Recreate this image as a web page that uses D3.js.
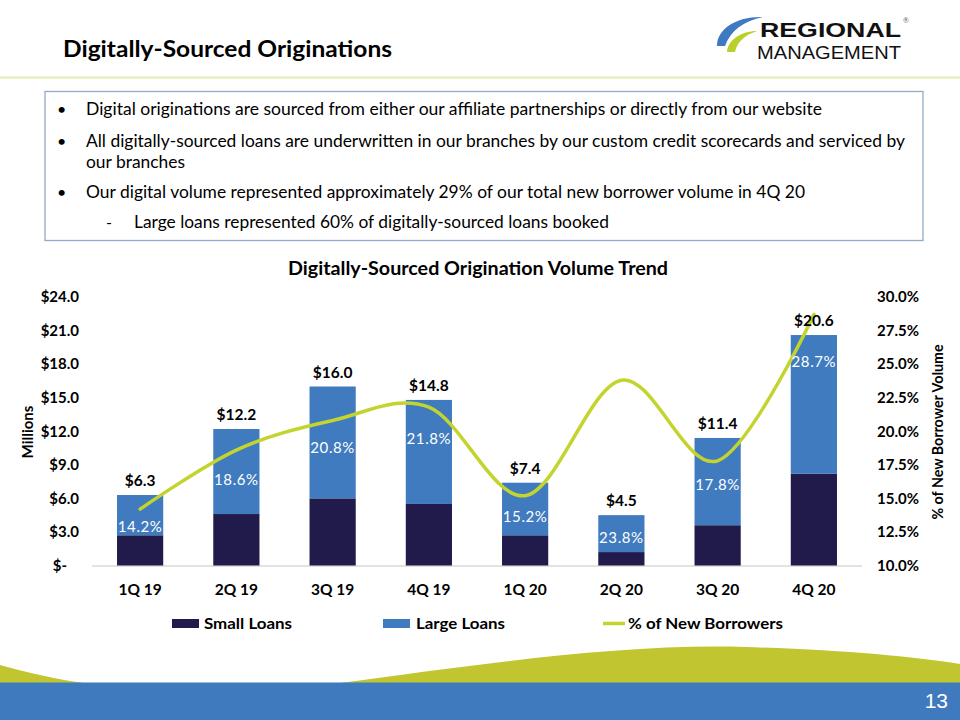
<!DOCTYPE html>
<html><head><meta charset="utf-8">
<script src="https://cdn.jsdelivr.net/npm/d3@7/dist/d3.min.js"></script>
<style>
html,body{margin:0;padding:0;background:#fff;}
svg{display:block;font-family:Lato, "Open Sans", sans-serif;}
</style></head>
<body>
<svg id="c" width="960" height="720"></svg>
<script>
// ---- data ----
const categories = ["1Q 19","2Q 19","3Q 19","4Q 19","1Q 20","2Q 20","3Q 20","4Q 20"];
const totalVolume = [6.3, 12.2, 16.0, 14.8, 7.4, 4.5, 11.4, 20.6];
const smallLoans = [2.7, 4.6, 6.0, 5.5, 2.7, 1.2, 3.6, 8.2];
const largeLoans = totalVolume.map((t, i) => +(t - smallLoans[i]).toFixed(1));
const pctNewBorrowers = [14.2, 18.6, 20.8, 21.8, 15.2, 23.8, 17.8, 28.7];
const pctLabelAnchor = [3.5, 7.7, 10.5, 11.3, 4.4, 2.5, 7.2, 18.2]; // $M level where % labels sit
const leftTicks = [0, 3, 6, 9, 12, 15, 18, 21, 24];
const rightTicks = [10, 12.5, 15, 17.5, 20, 22.5, 25, 27.5, 30];
const seriesNames = ["Small Loans", "Large Loans", "% of New Borrowers"];
const bullets = [
  "Digital originations are sourced from either our affiliate partnerships or directly from our website",
  "All digitally-sourced loans are underwritten in our branches by our custom credit scorecards and serviced by",
  "our branches",
  "Our digital volume represented approximately 29% of our total new borrower volume in 4Q 20",
  "Large loans represented 60% of digitally-sourced loans booked"
];

const C = {navy:"#201B4B", blue:"#3F7BBE", lime:"#C4D42F", olive:"#C1C52F", footBlue:"#3F7ABE"};

const svg = d3.select("#c");

// ---- header ----
svg.append("line").attr("x1",0).attr("x2",960).attr("y1",77.5).attr("y2",77.5)
  .attr("stroke","#E4EBB4").attr("stroke-width",2);
svg.append("text").attr("x",63).attr("y",57).attr("font-size",23).attr("font-weight",700)
  .attr("fill","#000").attr("textLength",329).attr("lengthAdjust","spacingAndGlyphs")
  .text("Digitally-Sourced Originations");

// logo
const logo = svg.append("g");
logo.append("path").attr("fill","#3F79C2")
  .attr("d","M717,46 C717,28 738,16 763,17 C744,21 731,30 725,46 Z");
logo.append("path").attr("fill","#B9CF2A")
  .attr("d","M727,52 C728,40 741,31 757,31 C745,35 737,42 735,52 Z");
logo.append("text").attr("x",760).attr("y",37).attr("font-size",21).attr("font-weight",700)
  .attr("font-family","'Liberation Sans Narrow','Liberation Sans',sans-serif")
  .attr("textLength",141).attr("lengthAdjust","spacingAndGlyphs").attr("fill","#111").text("REGIONAL");
logo.append("text").attr("x",757).attr("y",59).attr("font-size",18)
  .attr("font-family","'Liberation Sans Narrow','Liberation Sans',sans-serif")
  .attr("textLength",144).attr("lengthAdjust","spacingAndGlyphs").attr("fill","#111").text("MANAGEMENT");
logo.append("text").attr("x",903).attr("y",23).attr("font-size",7).attr("fill","#666").text("®");

// ---- bullet box ----
svg.append("rect").attr("x",45).attr("y",91.5).attr("width",878).attr("height",149)
  .attr("fill","none").attr("stroke","#93A9C6").attr("stroke-width",1.3);
const bl = [
  {t:bullets[0], x:86, y:115, mark:"•", w:736},
  {t:bullets[1], x:86, y:147, mark:"•", w:819},
  {t:bullets[2], x:86, y:168, mark:"", w:99},
  {t:bullets[3], x:86, y:198, mark:"•", w:719},
  {t:bullets[4], x:134, y:228, mark:"-", w:475}
];
bl.forEach(b => {
  if (b.mark === "•") svg.append("text").attr("x",57).attr("y",b.y).attr("font-size",16).attr("fill","#000").text("•");
  if (b.mark === "-") svg.append("text").attr("x",106).attr("y",b.y).attr("font-size",16).attr("fill","#000").text("-");
  svg.append("text").attr("x",b.x).attr("y",b.y).attr("font-size",17).attr("fill","#000")
    .attr("textLength",b.w).attr("lengthAdjust","spacingAndGlyphs").text(b.t);
});

// ---- chart ----
svg.append("text").attr("x",478).attr("y",275).attr("text-anchor","middle")
  .attr("font-size",18.5).attr("font-weight",700).attr("fill","#000")
  .attr("textLength",380).attr("lengthAdjust","spacingAndGlyphs")
  .text("Digitally-Sourced Origination Volume Trend");

const x = d3.scaleBand().domain(categories).range([92, 862]).paddingInner(0.52).paddingOuter(0.26);
const y = d3.scaleLinear().domain([0, 24]).range([565.5, 297]);
const y2 = d3.scaleLinear().domain([10, 30]).range([565.5, 297]);
const bw = x.bandwidth();

// baseline
svg.append("line").attr("x1",92).attr("x2",862).attr("y1",566).attr("y2",566)
  .attr("stroke","#D9D9D9").attr("stroke-width",1.5);

// bars
const bars = svg.append("g");
bars.selectAll(".s").data(categories).join("rect")
  .attr("x", d => x(d)).attr("width", bw)
  .attr("y", (d,i) => y(smallLoans[i])).attr("height", (d,i) => y(0) - y(smallLoans[i]))
  .attr("fill", C.navy);
bars.selectAll(".l").data(categories).join("rect")
  .attr("x", d => x(d)).attr("width", bw)
  .attr("y", (d,i) => y(smallLoans[i] + largeLoans[i]))
  .attr("height", (d,i) => y(smallLoans[i]) - y(smallLoans[i] + largeLoans[i]))
  .attr("fill", C.blue);

// left axis
const ax = svg.append("g").attr("transform","translate(92,0)")
  .call(d3.axisLeft(y).tickValues(leftTicks).tickSize(0).tickPadding(13)
    .tickFormat(d => d === 0 ? "$-" : "$" + d3.format(".1f")(d)));
ax.select(".domain").remove();
ax.selectAll("text").attr("font-family","Lato, sans-serif").attr("font-size",15).attr("font-weight",700).attr("fill","#000");
ax.selectAll("text").filter(d => d === 0).attr("dx",-12);

// right axis
const ar = svg.append("g").attr("transform","translate(862,0)")
  .call(d3.axisRight(y2).tickValues(rightTicks).tickSize(0).tickPadding(15)
    .tickFormat(d => d3.format(".1f")(d) + "%"));
ar.select(".domain").remove();
ar.selectAll("text").attr("font-family","Lato, sans-serif").attr("font-size",15).attr("font-weight",700).attr("fill","#000");

// bottom axis
const ab = svg.append("g").attr("transform","translate(0,566)")
  .call(d3.axisBottom(x).tickSize(0).tickPadding(18));
ab.select(".domain").remove();
ab.selectAll("text").attr("font-family","Lato, sans-serif").attr("font-size",15.5).attr("font-weight",700).attr("fill","#000");

// axis titles
svg.append("text").attr("transform","translate(33,432) rotate(-90)").attr("text-anchor","middle")
  .attr("font-size",15).attr("font-weight",700).attr("fill","#000").text("Millions");
svg.append("text").attr("transform","translate(943,432) rotate(-90)").attr("text-anchor","middle")
  .attr("font-size",15).attr("font-weight",700).attr("fill","#000")
  .attr("textLength",175).attr("lengthAdjust","spacingAndGlyphs").text("% of New Borrower Volume");

// line
const line = d3.line().x((d,i) => x(categories[i]) + bw/2).y(d => y2(d)).curve(d3.curveCardinal.tension(0));
svg.append("path").datum(pctNewBorrowers).attr("d", line).attr("fill","none")
  .attr("stroke", C.lime).attr("stroke-width",3.5).attr("stroke-linecap","round");

// total labels
svg.selectAll(".tl").data(categories).join("text")
  .attr("x", d => x(d) + bw/2).attr("y", (d,i) => y(totalVolume[i]) - 9)
  .attr("text-anchor","middle").attr("font-size",15.5).attr("font-weight",700).attr("fill","#000")
  .text((d,i) => "$" + d3.format(".1f")(totalVolume[i]));

// pct labels
svg.selectAll(".pl").data(categories).join("text")
  .attr("x", d => x(d) + bw/2).attr("y", (d,i) => y(pctLabelAnchor[i]))
  .attr("dy","0.35em").attr("text-anchor","middle").attr("font-size",15)
  .attr("letter-spacing",0.6).attr("fill","#fff")
  .text((d,i) => d3.format(".1f")(pctNewBorrowers[i]) + "%");

// legend
const lg = svg.append("g");
lg.append("rect").attr("x",172).attr("y",619).attr("width",27).attr("height",9).attr("fill",C.navy);
lg.append("text").attr("x",204).attr("y",629).attr("font-size",15.5).attr("font-weight",700)
  .attr("textLength",88).attr("lengthAdjust","spacingAndGlyphs").text(seriesNames[0]);
lg.append("rect").attr("x",383).attr("y",619).attr("width",27).attr("height",9).attr("fill",C.blue);
lg.append("text").attr("x",416).attr("y",629).attr("font-size",15.5).attr("font-weight",700)
  .attr("textLength",89).attr("lengthAdjust","spacingAndGlyphs").text(seriesNames[1]);
lg.append("line").attr("x1",603).attr("x2",625).attr("y1",623.5).attr("y2",623.5)
  .attr("stroke",C.lime).attr("stroke-width",3.5);
lg.append("text").attr("x",628).attr("y",629).attr("font-size",15.5).attr("font-weight",700)
  .attr("textLength",155).attr("lengthAdjust","spacingAndGlyphs").text(seriesNames[2]);

// ---- footer ----
svg.append("path").attr("fill",C.olive)
  .attr("d","M0,665 C30,673 55,679 84,683 L340,683 C460,667 620,643 745,647 C840,650 910,656 960,664 L960,684 L0,684 Z");
svg.append("rect").attr("x",0).attr("y",682.5).attr("width",960).attr("height",38).attr("fill",C.footBlue);
svg.append("text").attr("x",948).attr("y",708).attr("text-anchor","end").attr("font-size",21)
  .attr("font-family","'Liberation Sans Narrow','Liberation Sans',sans-serif").attr("fill","#fff").text("13");
</script>
</body></html>
